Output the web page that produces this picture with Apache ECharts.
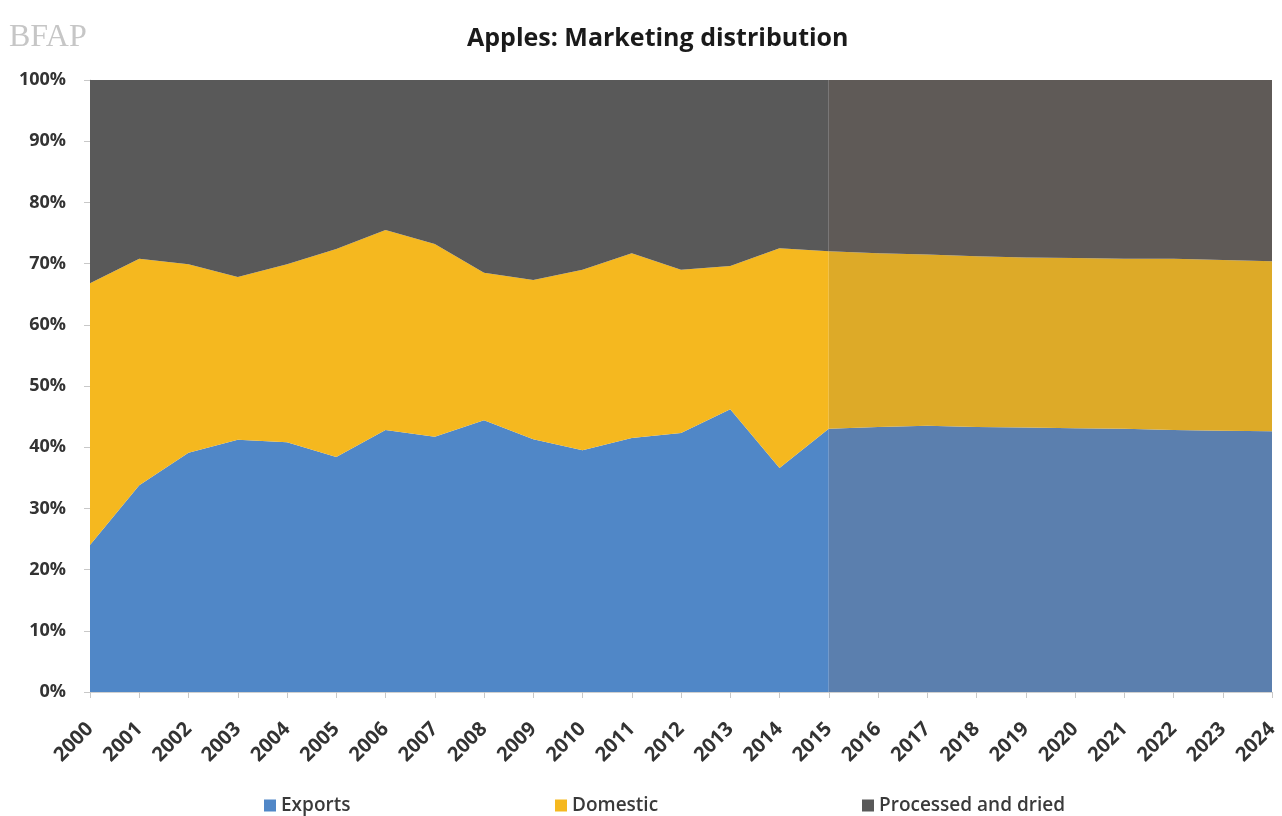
<!DOCTYPE html>
<html>
<head>
<meta charset="utf-8">
<script src="https://cdn.jsdelivr.net/npm/echarts@6/dist/echarts.min.js"></script>
<style>
  html, body { margin: 0; padding: 0; background: #fff; }
  #chart { width: 1282px; height: 816px; }
</style>
</head>
<body>
<div id="chart"></div>
<script>
// years on the x axis
var years = ['2000','2001','2002','2003','2004','2005','2006','2007','2008','2009','2010','2011','2012',
  '2013','2014','2015','2016','2017','2018','2019','2020','2021','2022','2023','2024'];
// share of apples by market channel, %
var exports = [24.0, 33.8, 39.1, 41.2, 40.8, 38.4, 42.8, 41.7, 44.4, 41.3, 39.5, 41.5, 42.3,
  46.2, 36.6, 43.0, 43.3, 43.5, 43.3, 43.2, 43.1, 43.0, 42.8, 42.7, 42.6];
var domestic = [42.8, 37.0, 30.8, 26.6, 29.1, 34.0, 32.7, 31.5, 24.1, 26.0, 29.5, 30.2, 26.7,
  23.4, 35.9, 29.0, 28.4, 28.0, 27.9, 27.8, 27.8, 27.8, 28.0, 27.9, 27.8];
var processed = [33.2, 29.2, 30.1, 32.2, 30.1, 27.6, 24.5, 26.8, 31.5, 32.7, 31.0, 28.3, 31.0,
  30.4, 27.5, 28.0, 28.3, 28.5, 28.8, 29.0, 29.1, 29.2, 29.2, 29.4, 29.6];
// projections start here
var projStart = '2015';

var split = years.indexOf(projStart);
function hist(arr) { return arr.map(function (v, i) { return i <= split ? v : '-'; }); }
function proj(arr) { return arr.map(function (v, i) { return i >= split ? v : '-'; }); }

function area(name, stack, data, color) {
  return {
    name: name,
    type: 'line',
    stack: stack,
    data: data,
    showSymbol: false,
    symbol: 'none',
    lineStyle: { width: 0 },
    itemStyle: { color: color },
    areaStyle: { color: color, opacity: 1 }
  };
}

var legendText = { fontFamily: 'Open Sans', fontSize: 19, fontWeight: 600, color: '#3a3a3a' };
function legendAt(name, left) {
  return {
    data: [name], left: left, top: 794, padding: 2,
    itemWidth: 12, itemHeight: 12, itemGap: 6, icon: 'rect',
    textStyle: legendText
  };
}

var myChart = echarts.init(document.getElementById('chart'));
myChart.setOption({
  animation: false,
  title: {
    text: 'Apples: Marketing distribution',
    left: 462,
    top: 21,
    textStyle: { fontFamily: 'Open Sans', fontSize: 25, fontWeight: 'bold', color: '#1a1a1a' }
  },
  graphic: [{
    type: 'text',
    left: 9,
    top: 22,
    style: { text: 'BFAP', font: '32px "Liberation Serif"', fill: '#c6c6c6' }
  }],
  legend: [
    legendAt('Exports', 262),
    legendAt('Domestic', 553),
    legendAt('Processed and dried', 860)
  ],
  grid: { left: 90, right: 10, top: 80, bottom: 124 },
  xAxis: {
    type: 'category',
    boundaryGap: false,
    data: years,
    axisLine: { lineStyle: { color: '#d0d0d0' } },
    axisTick: { show: true, length: 6, lineStyle: { color: '#c8c8c8' } },
    axisLabel: {
      rotate: 45, margin: 34, interval: 0,
      fontFamily: 'Open Sans', fontSize: 20, fontWeight: 'bold', color: '#333'
    }
  },
  yAxis: {
    type: 'value',
    min: 0,
    max: 100,
    interval: 10,
    axisLine: { show: true, lineStyle: { color: '#d0d0d0' } },
    axisTick: { show: true, length: 6, lineStyle: { color: '#c8c8c8' } },
    splitLine: { show: false },
    axisLabel: {
      formatter: '{value}%', margin: 24,
      fontFamily: 'Open Sans', fontSize: 18, fontWeight: 'bold', color: '#333'
    }
  },
  series: [
    area('Exports', 'hist', hist(exports), '#5087C7'),
    area('Domestic', 'hist', hist(domestic), '#F5B81F'),
    area('Processed and dried', 'hist', hist(processed), '#595959'),
    area('Exports ', 'proj', proj(exports), '#5B7FAE'),
    area('Domestic ', 'proj', proj(domestic), '#DDAA28'),
    area('Processed and dried ', 'proj', proj(processed), '#5F5A57')
  ]
});
</script>
</body>
</html>
